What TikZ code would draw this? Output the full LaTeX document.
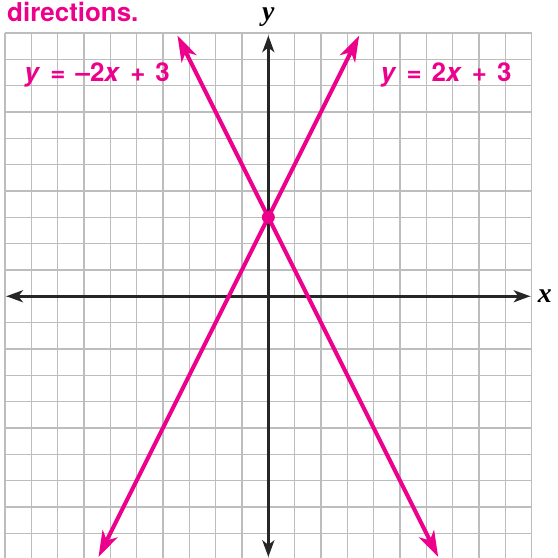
\documentclass[tikz,border=0pt]{standalone}
\usepackage{fontspec}
\setmainfont{TeX Gyre Heros}
\newfontfamily\eqfont{TeX Gyre Heros}[WordSpace=1.4, Ligatures=TeX]
\newfontfamily\axisfont{Liberation Serif}
\usetikzlibrary{arrows.meta}
\definecolor{mag}{HTML}{EC008C}
\definecolor{gridgray}{HTML}{BDBDBD}

\begin{document}
\begin{tikzpicture}[
  x=0.5cm, y=0.5cm,
  gridline/.style={gridgray, line width=0.7pt, step=1},
  axis/.style={{Stealth[length=9pt,width=6.5pt,inset=2.5pt]}-{Stealth[length=9pt,width=6.5pt,inset=2.5pt]}, line width=1.5pt, black!85},
  graphline/.style={{Stealth[length=14pt,width=9pt,inset=4pt]}-{Stealth[length=14pt,width=9pt,inset=4pt]}, line width=2.2pt, mag},
  eqn/.style={mag, font=\eqfont\fontsize{14}{16}\selectfont\bfseries},
  axislabel/.style={font=\axisfont\fontsize{15}{17}\selectfont\bfseries\itshape}
]
\useasboundingbox (-10.19,-9.94) rectangle (10.965,11.25);
\draw[gridline] (-10,-10) grid (10,10);
% axes
\coordinate (xmin) at (-9.95,0);
\coordinate (xmax) at (9.95,0);
\coordinate (ymin) at (0,-9.9);
\coordinate (ymax) at (0,9.9);
\draw[axis] (xmin) -- (xmax);
\draw[axis] (ymin) -- (ymax);
\node[axislabel] (xlabel) at (10.5,0) {x};
\node[axislabel] (ylabel) at (0,10.6) {y};
% the two lines
\coordinate (pos1) at (-6.45,-9.9);
\coordinate (pos2) at (3.45,9.9);
\coordinate (neg1) at (-3.45,9.9);
\coordinate (neg2) at (6.45,-9.9);
\draw[graphline] (pos1) -- (pos2);
\draw[graphline] (neg1) -- (neg2);
\node[circle, fill=mag, inner sep=0pt, minimum size=7pt] (yint) at (0,3) {};
\node[eqn] (negeq) at (-6.5,8.4) {\textit{y} = –2\textit{x} + 3};
\node[eqn] (poseq) at (6.75,8.4) {\textit{y} = 2\textit{x} + 3};
\node[eqn, anchor=base west, inner sep=0pt] (caption) at (-9.93,10.43) {directions.};
\end{tikzpicture}
\end{document}
